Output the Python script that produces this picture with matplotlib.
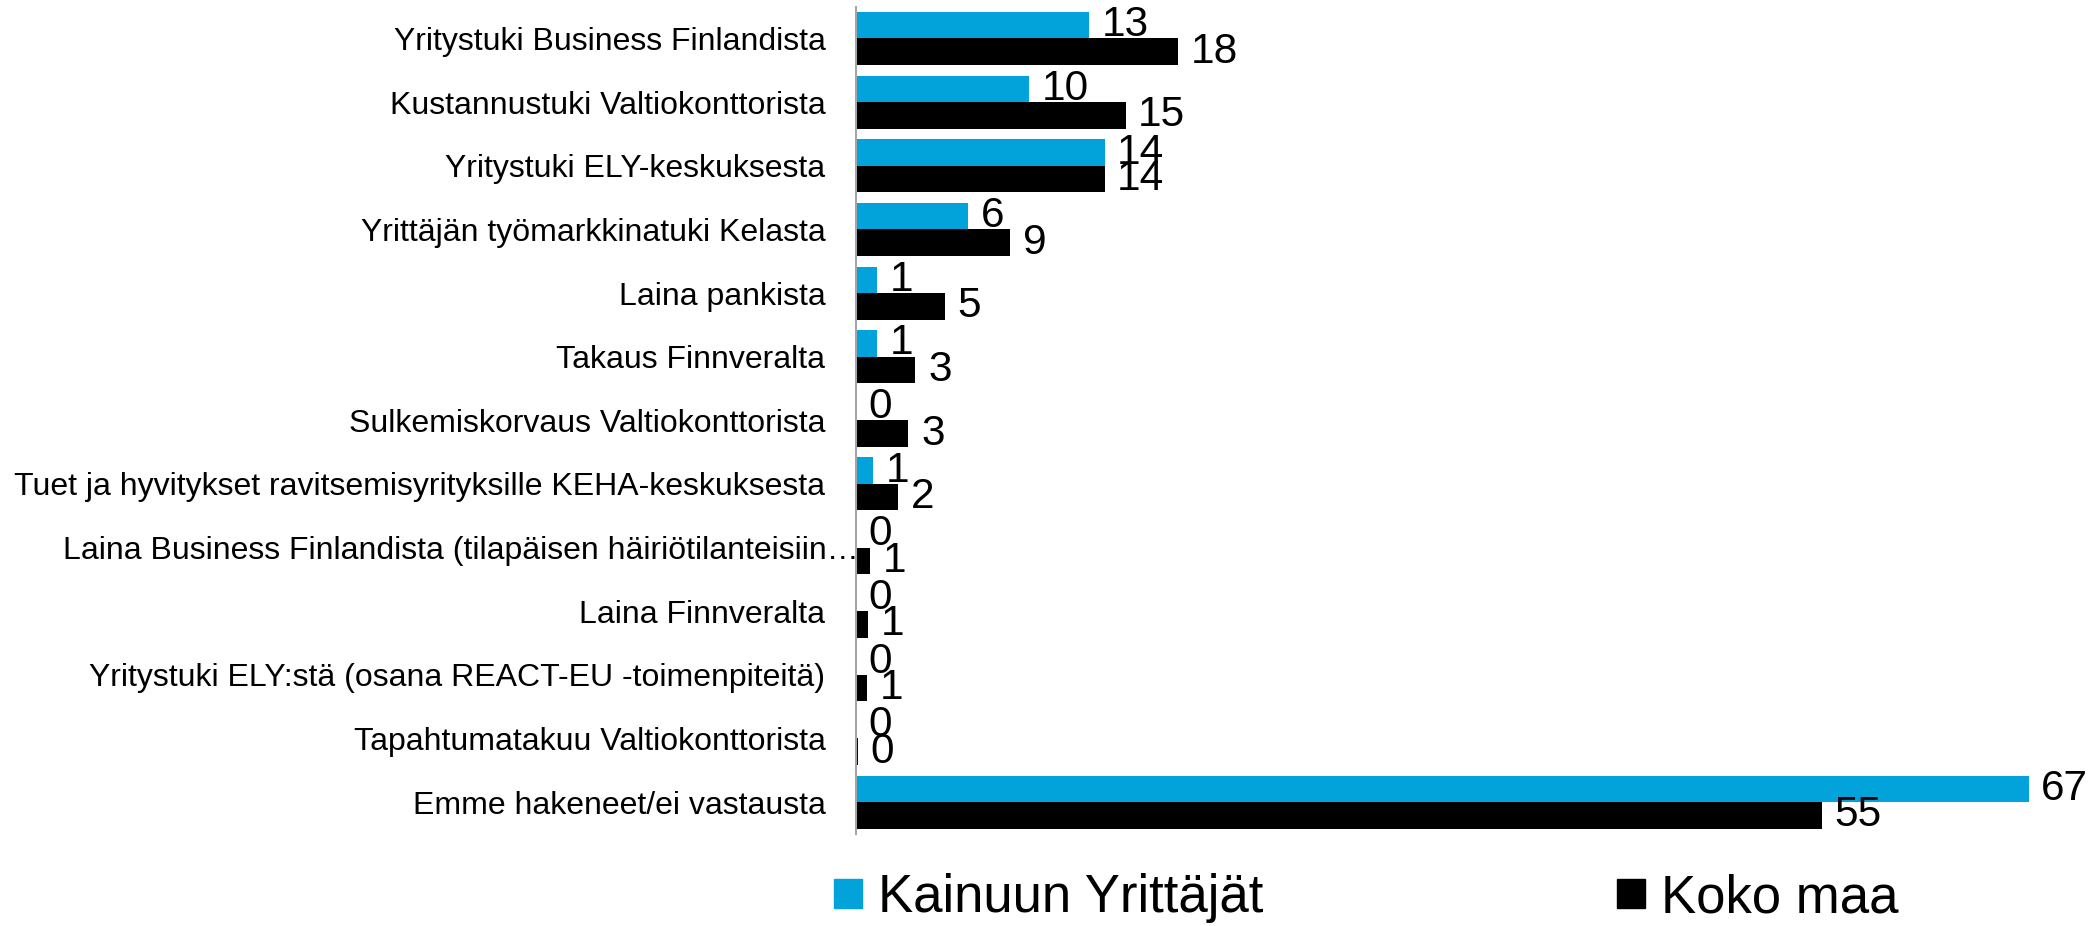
import matplotlib
matplotlib.use("Agg")
import matplotlib.pyplot as plt
import matplotlib.transforms as mtransforms
from matplotlib.patches import Patch
import numpy as np

plt.rcParams['font.family'] = ['Liberation Sans', 'DejaVu Sans']

# Kategoriat ja arvot (%), luettu kuvasta
categories = [
    "Yritystuki Business Finlandista",
    "Kustannustuki Valtiokonttorista",
    "Yritystuki ELY-keskuksesta",
    "Yrittäjän työmarkkinatuki Kelasta",
    "Laina pankista",
    "Takaus Finnveralta",
    "Sulkemiskorvaus Valtiokonttorista",
    "Tuet ja hyvitykset ravitsemisyrityksille KEHA-keskuksesta",
    "Laina Business Finlandista (tilapäisen häiriötilanteisiin…",
    "Laina Finnveralta",
    "Yritystuki ELY:stä (osana REACT-EU -toimenpiteitä)",
    "Tapahtumatakuu Valtiokonttorista",
    "Emme hakeneet/ei vastausta",
]
kainuu = [13.3, 9.9, 14.2, 6.4, 1.2, 1.2, 0, 1.0, 0, 0, 0, 0, 67.0]
koko_maa = [18.4, 15.4, 14.2, 8.8, 5.1, 3.4, 3.0, 2.4, 0.8, 0.7, 0.65, 0.1, 55.2]
series_names = ["Kainuun Yrittäjät", "Koko maa"]

blue = '#02A3DB'
black = '#000000'

fig = plt.figure(figsize=(20.97, 9.26), dpi=100)
ax = fig.add_axes([0.4082, 0.0994, 0.5842, 0.8934])

y = np.arange(len(categories))
h = 0.416
b1 = ax.barh(y - h / 2, kainuu, height=h, color=blue)
b2 = ax.barh(y + h / 2, koko_maa, height=h, color=black)

ax.bar_label(b1, labels=[f'{round(v)}' for v in kainuu], padding=9, fontsize=30.5)
ax.bar_label(b2, labels=[f'{round(v)}' for v in koko_maa], padding=9, fontsize=30.5)

ax.set_xlim(0, 70)
ax.set_ylim(len(categories) - 0.5, -0.5)
ax.set_yticks(y)
ax.set_yticklabels(categories, fontsize=23)
ax.tick_params(axis='y', length=0, pad=22)
ax.set_xticks([])

for s in ['top', 'right', 'bottom']:
    ax.spines[s].set_visible(False)
ax.spines['left'].set_color('#A6A6A6')
ax.spines['left'].set_linewidth(1.5)

# katkaistu otsikko ulottuu akselille asti
lab = ax.get_yticklabels()[8]
lab.set_transform(lab.get_transform() + mtransforms.ScaledTranslation(0.33, 0, fig.dpi_scale_trans))

handles = [Patch(color=blue), Patch(color=black)]
fig.legend(handles, series_names, loc='center left', bbox_to_anchor=(0.3977, 0.03),
           ncol=2, frameon=False, fontsize=38, handlelength=0.53, handleheight=0.47,
           handletextpad=0.3, columnspacing=6.7, borderpad=0, borderaxespad=0)

fig.savefig('out.png', dpi=100)
